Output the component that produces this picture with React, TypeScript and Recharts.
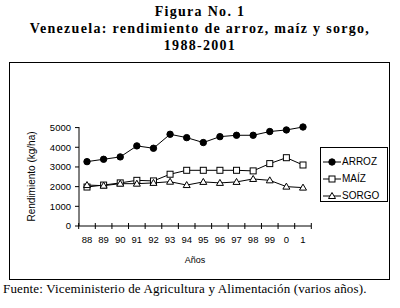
import { LineChart, Line, XAxis, YAxis, Legend, Label } from "recharts";

const years = ["88", "89", "90", "91", "92", "93", "94", "95", "96", "97", "98", "99", "0", "1"];
const arroz = [3270, 3390, 3510, 4070, 3950, 4660, 4490, 4240, 4540, 4610, 4610, 4800, 4880, 5030];
const maiz = [1980, 2080, 2190, 2320, 2290, 2630, 2830, 2830, 2830, 2830, 2800, 3170, 3470, 3100];
const sorgo = [2080, 2050, 2150, 2150, 2190, 2250, 2080, 2240, 2190, 2240, 2390, 2320, 2000, 1950];
const yTicks = [0, 1000, 2000, 3000, 4000, 5000];

const data = years.map((year, i) => ({
  year,
  arroz: arroz[i],
  maiz: maiz[i],
  sorgo: sorgo[i],
}));

const sans = "'Liberation Sans', Arial, sans-serif";
const serif = "'Liberation Serif', 'Times New Roman', serif";

const Diamond = (props: any) => {
  const { cx, cy } = props;
  if (cx == null || cy == null) return null;
  return <circle cx={cx} cy={cy} r={3.2} fill="#000" stroke="#000" />;
};

const Square = (props: any) => {
  const { cx, cy } = props;
  if (cx == null || cy == null) return null;
  return <rect x={cx - 3} y={cy - 3} width={6} height={6} fill="#fff" stroke="#000" />;
};

const Triangle = (props: any) => {
  const { cx, cy } = props;
  if (cx == null || cy == null) return null;
  return (
    <polygon
      points={`${cx},${cy - 3.5} ${cx + 3.5},${cy + 2.5} ${cx - 3.5},${cy + 2.5}`}
      fill="#fff"
      stroke="#000"
    />
  );
};

// labels sit on the points, tick marks between categories
const YearTick = (props: any) => {
  const { x, y, payload, index, visibleTicksCount, width } = props;
  const step = width && visibleTicksCount ? (width - 16) / (visibleTicksCount - 1) : 16.57;
  const axisY = y - 10;
  return (
    <g>
      <line x1={x - step / 2} x2={x - step / 2} y1={axisY - 3} y2={axisY + 3} stroke="#000" />
      {index === visibleTicksCount - 1 && (
        <line x1={x + step / 2} x2={x + step / 2} y1={axisY - 3} y2={axisY + 3} stroke="#000" />
      )}
      <text x={x} y={y} dy="0.71em" textAnchor="middle" fontSize={9.5} fontFamily={sans} fill="#000">
        {payload.value}
      </text>
    </g>
  );
};

const legendItems = [
  { name: "ARROZ", Dot: Diamond },
  { name: "MAÍZ", Dot: Square },
  { name: "SORGO", Dot: Triangle },
];

const LegendBox = () => (
  <div
    style={{
      border: "1px solid #000",
      background: "#fff",
      boxSizing: "border-box",
      width: 68,
      height: 55,
      padding: "5px 0 0 2px",
    }}
  >
    {legendItems.map(({ name, Dot }) => (
      <div key={name} style={{ display: "flex", alignItems: "center", height: 17 }}>
        <svg width={18} height={10}>
          <line x1={0} x2={18} y1={5} y2={5} stroke="#000" />
          <Dot cx={9} cy={5} />
        </svg>
        <span style={{ fontFamily: sans, fontSize: 10, marginLeft: 1 }}>{name}</span>
      </div>
    ))}
  </div>
);

export default function App() {
  return (
    <div style={{ position: "absolute", left: 0, top: 0, width: 400, height: 308, background: "#fff" }}>
      <div
        style={{
          position: "absolute",
          top: 3,
          left: 0,
          width: 400,
          textAlign: "center",
          fontFamily: serif,
          fontWeight: "bold",
          fontSize: 14,
          lineHeight: "17px",
          letterSpacing: "1.3px",
        }}
      >
        <div>Figura No. 1</div>
        <div>Venezuela: rendimiento de arroz, maíz y sorgo,</div>
        <div>1988-2001</div>
      </div>
      <div
        style={{
          position: "absolute",
          left: 9,
          top: 62,
          width: 381,
          height: 218,
          border: "1px solid #000",
          boxSizing: "border-box",
        }}
      >
        <LineChart
          width={379}
          height={216}
          data={data}
          margin={{ top: 64, right: 78, bottom: 13, left: 0 }}
        >
          <XAxis
            dataKey="year"
            stroke="#000"
            tickLine={false}
            tickSize={6}
            tickMargin={4}
            padding={{ left: 8, right: 8 }}
            height={40}
            tick={<YearTick />}
            interval={0}
          >
            <Label
              value="Años"
              position="insideBottom"
              offset={3}
              style={{ fontFamily: sans, fontSize: 9, fill: "#000" }}
            />
          </XAxis>
          <YAxis
            domain={[0, 5000]}
            ticks={yTicks}
            width={69}
            stroke="#000"
            tickSize={4}
            tickMargin={4}
            tick={{ fontFamily: sans, fontSize: 9.5, fill: "#000" }}
          >
            <Label
              value="Rendimiento (kg/ha)"
              angle={-90}
              position="center"
              dx={-13}
              style={{ fontFamily: sans, fontSize: 10, fill: "#000", textAnchor: "middle" }}
            />
          </YAxis>
          <Legend
            layout="vertical"
            align="center"
            verticalAlign="middle"
            wrapperStyle={{ left: 310, top: 84, width: 68, height: 55 }}
            content={<LegendBox />}
          />
          <Line dataKey="arroz" name="ARROZ" stroke="#000" strokeWidth={1} dot={<Diamond />} isAnimationActive={false} />
          <Line dataKey="maiz" name="MAÍZ" stroke="#000" strokeWidth={1} dot={<Square />} isAnimationActive={false} />
          <Line dataKey="sorgo" name="SORGO" stroke="#000" strokeWidth={1} dot={<Triangle />} isAnimationActive={false} />
        </LineChart>
      </div>
      <div
        style={{
          position: "absolute",
          left: 3,
          top: 281,
          fontFamily: serif,
          fontSize: 13,
          letterSpacing: "0.15px",
          whiteSpace: "nowrap",
        }}
      >
        Fuente: Viceministerio de Agricultura y Alimentación (varios años).
      </div>
    </div>
  );
}
